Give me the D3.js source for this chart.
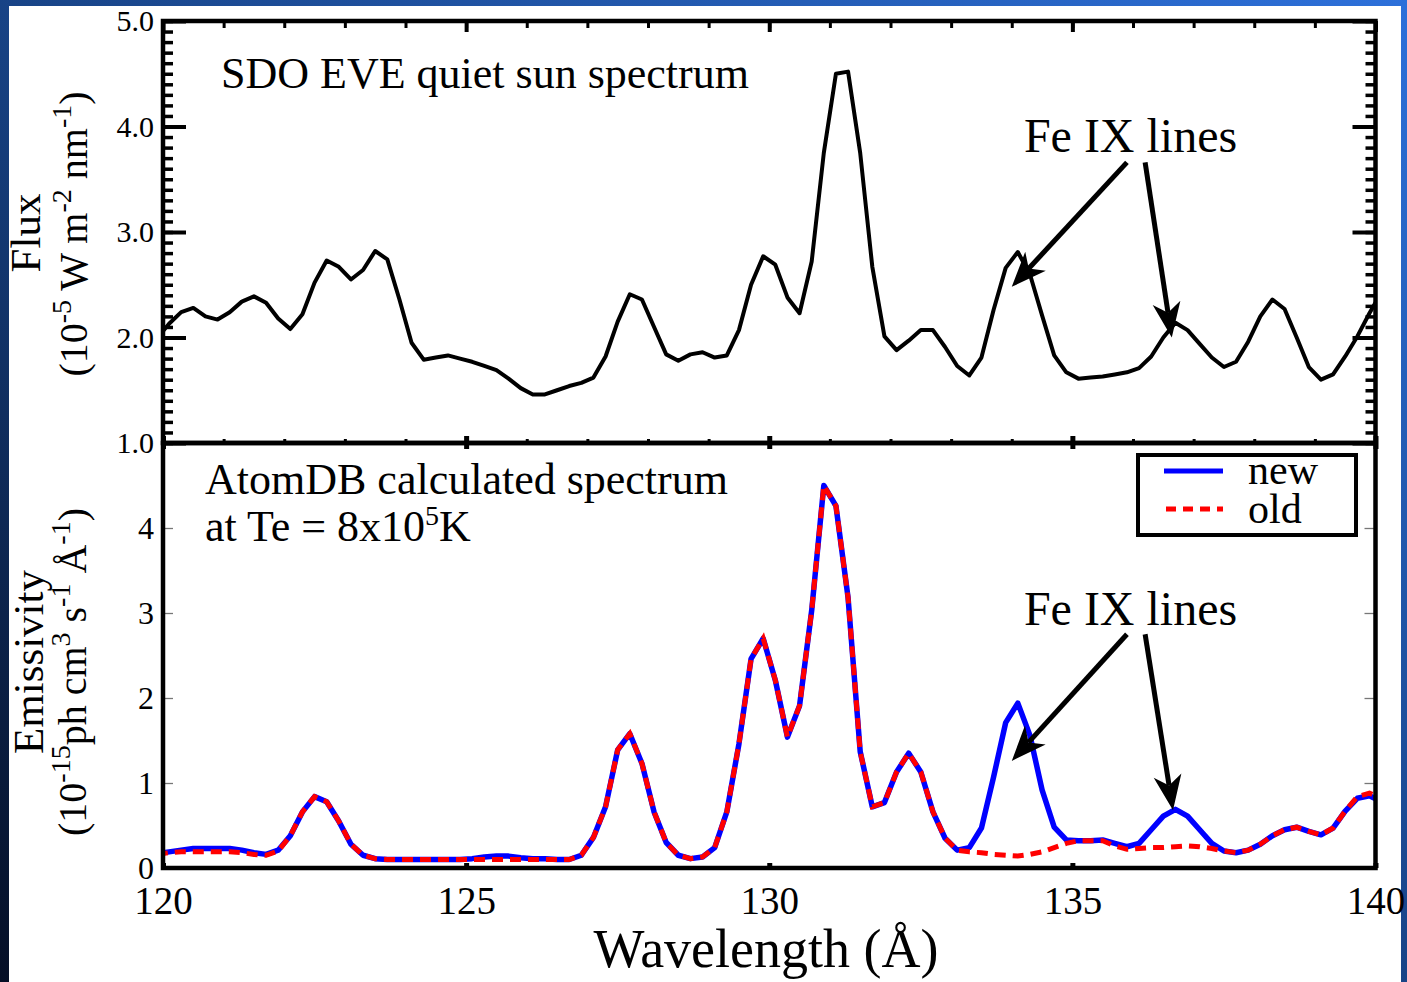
<!DOCTYPE html>
<html>
<head>
<meta charset="utf-8">
<script src="https://cdn.jsdelivr.net/npm/d3@7"></script>
<style>
body { margin: 0; background: #fff; }
svg text { font-family: "Liberation Serif", "Times New Roman", serif; fill: #000; }
</style>
</head>
<body>
<svg id="chart" width="1407" height="982"></svg>
<script>
"use strict";

// wavelength grid shared by both spectra (Angstrom)
const wavelength = [
  119.9, 120.1, 120.3, 120.5, 120.7, 120.9, 121.1, 121.3, 121.5, 121.7, 121.9,
  122.1, 122.3, 122.5, 122.7, 122.9, 123.1, 123.3, 123.5, 123.7, 123.9,
  124.1, 124.3, 124.5, 124.7, 124.9, 125.1, 125.3, 125.5, 125.7, 125.9,
  126.1, 126.3, 126.5, 126.7, 126.9, 127.1, 127.3, 127.5, 127.7, 127.9,
  128.1, 128.3, 128.5, 128.7, 128.9, 129.1, 129.3, 129.5, 129.7, 129.9,
  130.1, 130.3, 130.5, 130.7, 130.9, 131.1, 131.3, 131.5, 131.7, 131.9,
  132.1, 132.3, 132.5, 132.7, 132.9, 133.1, 133.3, 133.5, 133.7, 133.9,
  134.1, 134.3, 134.5, 134.7, 134.9, 135.1, 135.3, 135.5, 135.7, 135.9,
  136.1, 136.3, 136.5, 136.7, 136.9, 137.1, 137.3, 137.5, 137.7, 137.9,
  138.1, 138.3, 138.5, 138.7, 138.9, 139.1, 139.3, 139.5, 139.7, 139.9,
  140.1
];

// SDO EVE quiet sun flux (1e-5 W m-2 nm-1)
const fluxEVE = [
  1.99, 2.13, 2.24, 2.28, 2.20, 2.17, 2.24, 2.34, 2.39, 2.33, 2.18,
  2.08, 2.22, 2.52, 2.73, 2.67, 2.55, 2.64, 2.82, 2.74, 2.36,
  1.95, 1.79, 1.81, 1.83, 1.80, 1.77, 1.73, 1.69, 1.61, 1.52,
  1.46, 1.46, 1.50, 1.54, 1.57, 1.62, 1.82, 2.15, 2.41, 2.36,
  2.10, 1.84, 1.78, 1.84, 1.86, 1.81, 1.83, 2.07, 2.50, 2.77,
  2.69, 2.38, 2.23, 2.72, 3.75, 4.50, 4.52, 3.75, 2.67, 2.01,
  1.88, 1.97, 2.07, 2.07, 1.91, 1.73, 1.64, 1.81, 2.26, 2.66,
  2.81, 2.60, 2.21, 1.83, 1.67, 1.61, 1.62, 1.63, 1.65, 1.67,
  1.71, 1.82, 2.00, 2.14, 2.07, 1.94, 1.81, 1.72, 1.77, 1.96,
  2.20, 2.36, 2.27, 2.00, 1.72, 1.60, 1.65, 1.82, 2.01, 2.23,
  2.43
];

// AtomDB emissivity (1e-15 ph cm3 s-1 A-1), new data
const emisNew = [
  0.17, 0.19, 0.21, 0.23, 0.23, 0.23, 0.23, 0.21, 0.18, 0.16, 0.21,
  0.38, 0.66, 0.84, 0.78, 0.55, 0.28, 0.15, 0.11, 0.10, 0.10,
  0.10, 0.10, 0.10, 0.10, 0.10, 0.11, 0.13, 0.14, 0.14, 0.12,
  0.11, 0.11, 0.10, 0.10, 0.15, 0.36, 0.72, 1.39, 1.58, 1.23,
  0.66, 0.30, 0.15, 0.11, 0.13, 0.24, 0.66, 1.46, 2.46, 2.70,
  2.21, 1.54, 1.91, 3.03, 4.50, 4.26, 3.18, 1.37, 0.72, 0.77,
  1.13, 1.35, 1.13, 0.66, 0.35, 0.21, 0.24, 0.47, 1.07, 1.71,
  1.94, 1.56, 0.92, 0.48, 0.33, 0.32, 0.32, 0.33, 0.29, 0.25,
  0.29, 0.45, 0.61, 0.69, 0.61, 0.45, 0.29, 0.20, 0.18, 0.21,
  0.28, 0.38, 0.45, 0.48, 0.43, 0.39, 0.47, 0.67, 0.82, 0.85,
  0.78
];

// old data
const emisOld = [
  0.16, 0.18, 0.19, 0.19, 0.19, 0.19, 0.19, 0.18, 0.16, 0.15, 0.20,
  0.38, 0.66, 0.84, 0.78, 0.55, 0.28, 0.15, 0.11, 0.10, 0.10,
  0.10, 0.10, 0.10, 0.10, 0.10, 0.10, 0.10, 0.10, 0.10, 0.10,
  0.10, 0.10, 0.10, 0.10, 0.15, 0.36, 0.72, 1.39, 1.58, 1.23,
  0.66, 0.30, 0.15, 0.11, 0.13, 0.24, 0.66, 1.46, 2.46, 2.70,
  2.21, 1.54, 1.91, 3.03, 4.50, 4.26, 3.18, 1.37, 0.72, 0.77,
  1.13, 1.35, 1.13, 0.66, 0.35, 0.21, 0.19, 0.18, 0.16, 0.15,
  0.14, 0.16, 0.19, 0.24, 0.29, 0.32, 0.32, 0.32, 0.26, 0.22,
  0.23, 0.24, 0.24, 0.25, 0.26, 0.25, 0.23, 0.20, 0.18, 0.21,
  0.28, 0.38, 0.45, 0.48, 0.43, 0.39, 0.47, 0.67, 0.84, 0.88,
  0.82
];

const xTicks = [120, 125, 130, 135, 140];
const fluxTicks = [1, 2, 3, 4, 5];
const emisTicks = [0, 1, 2, 3, 4];

// arrows: [from wavelength, from value, to wavelength, to value]
const arrowsTop = [[135.9, 3.66, 134.0, 2.48], [136.2, 3.66, 136.64, 2.0]];
const arrowsBot = [[135.9, 2.75, 134.0, 1.26], [136.2, 2.75, 136.66, 0.68]];

const W = 1407, H = 982;
const pL = 163, pR = 1375.5, pT = 21, pM = 443, pB = 868;

const svg = d3.select("#chart");

// blue slide background
const defs = svg.append("defs");
const grad = defs.append("linearGradient").attr("id", "bg")
  .attr("x1", 0).attr("y1", 1).attr("x2", 1).attr("y2", 0);
grad.append("stop").attr("offset", 0).attr("stop-color", "#050f26");
grad.append("stop").attr("offset", 0.45).attr("stop-color", "#163f7e");
grad.append("stop").attr("offset", 1).attr("stop-color", "#2d70da");
svg.append("rect").attr("width", W).attr("height", H).attr("fill", "url(#bg)");
svg.append("rect").attr("x", 9).attr("y", 6).attr("width", 1392).attr("height", H).attr("fill", "#fff");

const x = d3.scaleLinear().domain([120, 140]).range([pL, pR]);
const yTop = d3.scaleLinear().domain([1, 5]).range([pM, pT]);
const yBot = d3.scaleLinear().domain([0, 5]).range([pB, pM]);

defs.append("clipPath").attr("id", "clipTop").append("rect")
  .attr("x", pL).attr("y", pT).attr("width", pR - pL).attr("height", pM - pT);
defs.append("clipPath").attr("id", "clipBot").append("rect")
  .attr("x", pL).attr("y", pM).attr("width", pR - pL).attr("height", pB - pM);

function tidy(g, width, color) {
  g.select(".domain").remove();
  g.selectAll(".tick line").attr("stroke", color).attr("stroke-width", width);
}

const minorFlux = d3.range(10, 51).map(d => d / 10);
const minorX = d3.range(120, 141);

// ---- top panel axes
svg.append("g").attr("transform", `translate(${pL},0)`)
  .call(d3.axisLeft(yTop).tickValues(minorFlux).tickSize(-10).tickFormat(""))
  .call(g => tidy(g, 3.5, "#000"));
svg.append("g").attr("transform", `translate(${pL},0)`)
  .call(d3.axisLeft(yTop).tickValues(fluxTicks).tickSize(-23).tickPadding(9).tickFormat(d3.format(".1f")))
  .call(g => tidy(g, 4, "#000"))
  .call(g => g.selectAll("text").style("font-size", "30px"));
svg.append("g").attr("transform", `translate(${pR},0)`)
  .call(d3.axisRight(yTop).tickValues(minorFlux).tickSize(-10).tickFormat(""))
  .call(g => tidy(g, 3.5, "#000"));
svg.append("g").attr("transform", `translate(${pR},0)`)
  .call(d3.axisRight(yTop).tickValues(fluxTicks).tickSize(-23).tickFormat(""))
  .call(g => tidy(g, 4, "#000"));
svg.append("g").attr("transform", `translate(0,${pT})`)
  .call(d3.axisTop(x).tickValues(minorX).tickSize(-7).tickFormat(""))
  .call(g => tidy(g, 3, "#000"));
svg.append("g").attr("transform", `translate(0,${pT})`)
  .call(d3.axisTop(x).tickValues(xTicks).tickSize(-11).tickFormat(""))
  .call(g => tidy(g, 4, "#000"));
svg.append("g").attr("transform", `translate(0,${pM})`)
  .call(d3.axisBottom(x).tickValues(minorX).tickSize(-4).tickFormat(""))
  .call(g => tidy(g, 3, "#000"));
svg.append("g").attr("transform", `translate(0,${pM})`)
  .call(d3.axisBottom(x).tickValues(xTicks).tickSize(-7).tickFormat(""))
  .call(g => tidy(g, 5, "#000"));
svg.append("g").attr("transform", `translate(0,${pM})`)
  .call(d3.axisBottom(x).tickValues(xTicks).tickSize(6).tickFormat(""))
  .call(g => tidy(g, 5, "#000"));

// ---- bottom panel axes
svg.append("g").attr("transform", `translate(${pL},0)`)
  .call(d3.axisLeft(yBot).tickValues(emisTicks).tickSize(-10).tickPadding(9).tickFormat(d3.format("d")))
  .call(g => tidy(g, 1.3, "#777"))
  .call(g => g.selectAll("text").style("font-size", "32px"));
svg.append("g").attr("transform", `translate(${pR},0)`)
  .call(d3.axisRight(yBot).tickValues([1, 2, 3, 4]).tickSize(-11).tickFormat(""))
  .call(g => tidy(g, 1.3, "#777"));
svg.append("g").attr("transform", `translate(0,${pB})`)
  .call(d3.axisBottom(x).tickValues(xTicks).tickSize(-5).tickPadding(18).tickFormat(d3.format("d")))
  .call(g => tidy(g, 5, "#000"))
  .call(g => g.selectAll("text").style("font-size", "39px"));

// ---- spectra
const lineTop = d3.line().x((d, i) => x(wavelength[i])).y(d => yTop(d));
const lineBot = d3.line().x((d, i) => x(wavelength[i])).y(d => yBot(d));

svg.append("path").attr("clip-path", "url(#clipTop)").datum(fluxEVE)
  .attr("d", lineTop).attr("fill", "none").attr("stroke", "#000")
  .attr("stroke-width", 4).attr("stroke-linejoin", "round");

const gb = svg.append("g").attr("clip-path", "url(#clipBot)");
gb.append("path").datum(emisNew).attr("d", lineBot).attr("fill", "none")
  .attr("stroke", "#0000ff").attr("stroke-width", 5.5).attr("stroke-linejoin", "round");
gb.append("path").datum(emisOld).attr("d", lineBot).attr("fill", "none")
  .attr("stroke", "#ff0000").attr("stroke-width", 5).attr("stroke-dasharray", "11,7");

// ---- frames
svg.append("rect").attr("x", pL).attr("y", pT).attr("width", pR - pL).attr("height", pM - pT)
  .attr("fill", "none").attr("stroke", "#000").attr("stroke-width", 4.5);
svg.append("rect").attr("x", pL).attr("y", pM).attr("width", pR - pL).attr("height", pB - pM)
  .attr("fill", "none").attr("stroke", "#000").attr("stroke-width", 4.5);

// ---- annotations
function arrow(y, a) {
  const x0 = x(a[0]), y0 = y(a[1]), x1 = x(a[2]), y1 = y(a[3]);
  const ang = Math.atan2(y1 - y0, x1 - x0);
  const L = 35, hw = 14, notch = 10;
  const c = Math.cos(ang), s = Math.sin(ang);
  const pt = (u, v) => [x1 + u * c - v * s, y1 + u * s + v * c];
  const n = pt(-L + notch, 0);
  svg.append("line").attr("x1", x0).attr("y1", y0).attr("x2", n[0]).attr("y2", n[1])
    .attr("stroke", "#000").attr("stroke-width", 5);
  svg.append("path").attr("d", "M" + [pt(0, 0), pt(-L, hw), n, pt(-L, -hw)].join("L") + "Z")
    .attr("fill", "#000");
}
arrowsTop.forEach(a => arrow(yTop, a));
arrowsBot.forEach(a => arrow(yBot, a));

svg.append("text").attr("x", x(134.2)).attr("y", yTop(3.76)).style("font-size", "48px").text("Fe IX lines");
svg.append("text").attr("x", x(134.2)).attr("y", yBot(2.86)).style("font-size", "48px").text("Fe IX lines");

svg.append("text").attr("x", 221).attr("y", 88).style("font-size", "44px").text("SDO EVE quiet sun spectrum");
svg.append("text").attr("x", 205).attr("y", 494).style("font-size", "44px").text("AtomDB calculated spectrum");
const te = svg.append("text").attr("x", 205).attr("y", 541).style("font-size", "44px");
te.append("tspan").text("at Te = 8x10");
te.append("tspan").attr("dy", -16).style("font-size", "28px").text("5");
te.append("tspan").attr("dy", 16).text("K");

// legend
svg.append("rect").attr("x", 1138).attr("y", 455).attr("width", 218).attr("height", 80)
  .attr("fill", "#fff").attr("stroke", "#000").attr("stroke-width", 4);
svg.append("line").attr("x1", 1164).attr("x2", 1223).attr("y1", 471).attr("y2", 471)
  .attr("stroke", "#0000ff").attr("stroke-width", 5);
svg.append("line").attr("x1", 1166).attr("x2", 1223).attr("y1", 509).attr("y2", 509)
  .attr("stroke", "#ff0000").attr("stroke-width", 5).attr("stroke-dasharray", "10,7");
svg.append("text").attr("x", 1248).attr("y", 484).style("font-size", "42px").text("new");
svg.append("text").attr("x", 1248).attr("y", 523).style("font-size", "42px").text("old");

// axis titles
svg.append("text").attr("x", 766).attr("y", 967).attr("text-anchor", "middle")
  .style("font-size", "54px").text("Wavelength (Å)");

function ylabel(tx, ty, size, parts) {
  const t = svg.append("text").attr("transform", `translate(${tx},${ty}) rotate(-90)`)
    .attr("text-anchor", "middle").style("font-size", size + "px");
  let raised = false;
  parts.forEach(p => {
    const sup = p[0] === "^";
    const s = t.append("tspan").text(sup ? p.slice(1) : p);
    if (sup && !raised) { s.attr("dy", -size * 0.4).style("font-size", size * 0.7 + "px"); raised = true; }
    else if (sup) s.style("font-size", size * 0.7 + "px");
    else if (raised) { s.attr("dy", size * 0.4); raised = false; }
  });
}
ylabel(40, 233, 43, ["Flux"]);
ylabel(87, 234, 40, ["(10", "^-5", " W m", "^-2", " nm", "^-1", ")"]);
ylabel(43, 662, 43, ["Emissivity"]);
ylabel(86, 672, 40, ["(10", "^-15", "ph cm", "^3", " s", "^-1", " Å", "^-1", ")"]);
</script>
</body>
</html>
